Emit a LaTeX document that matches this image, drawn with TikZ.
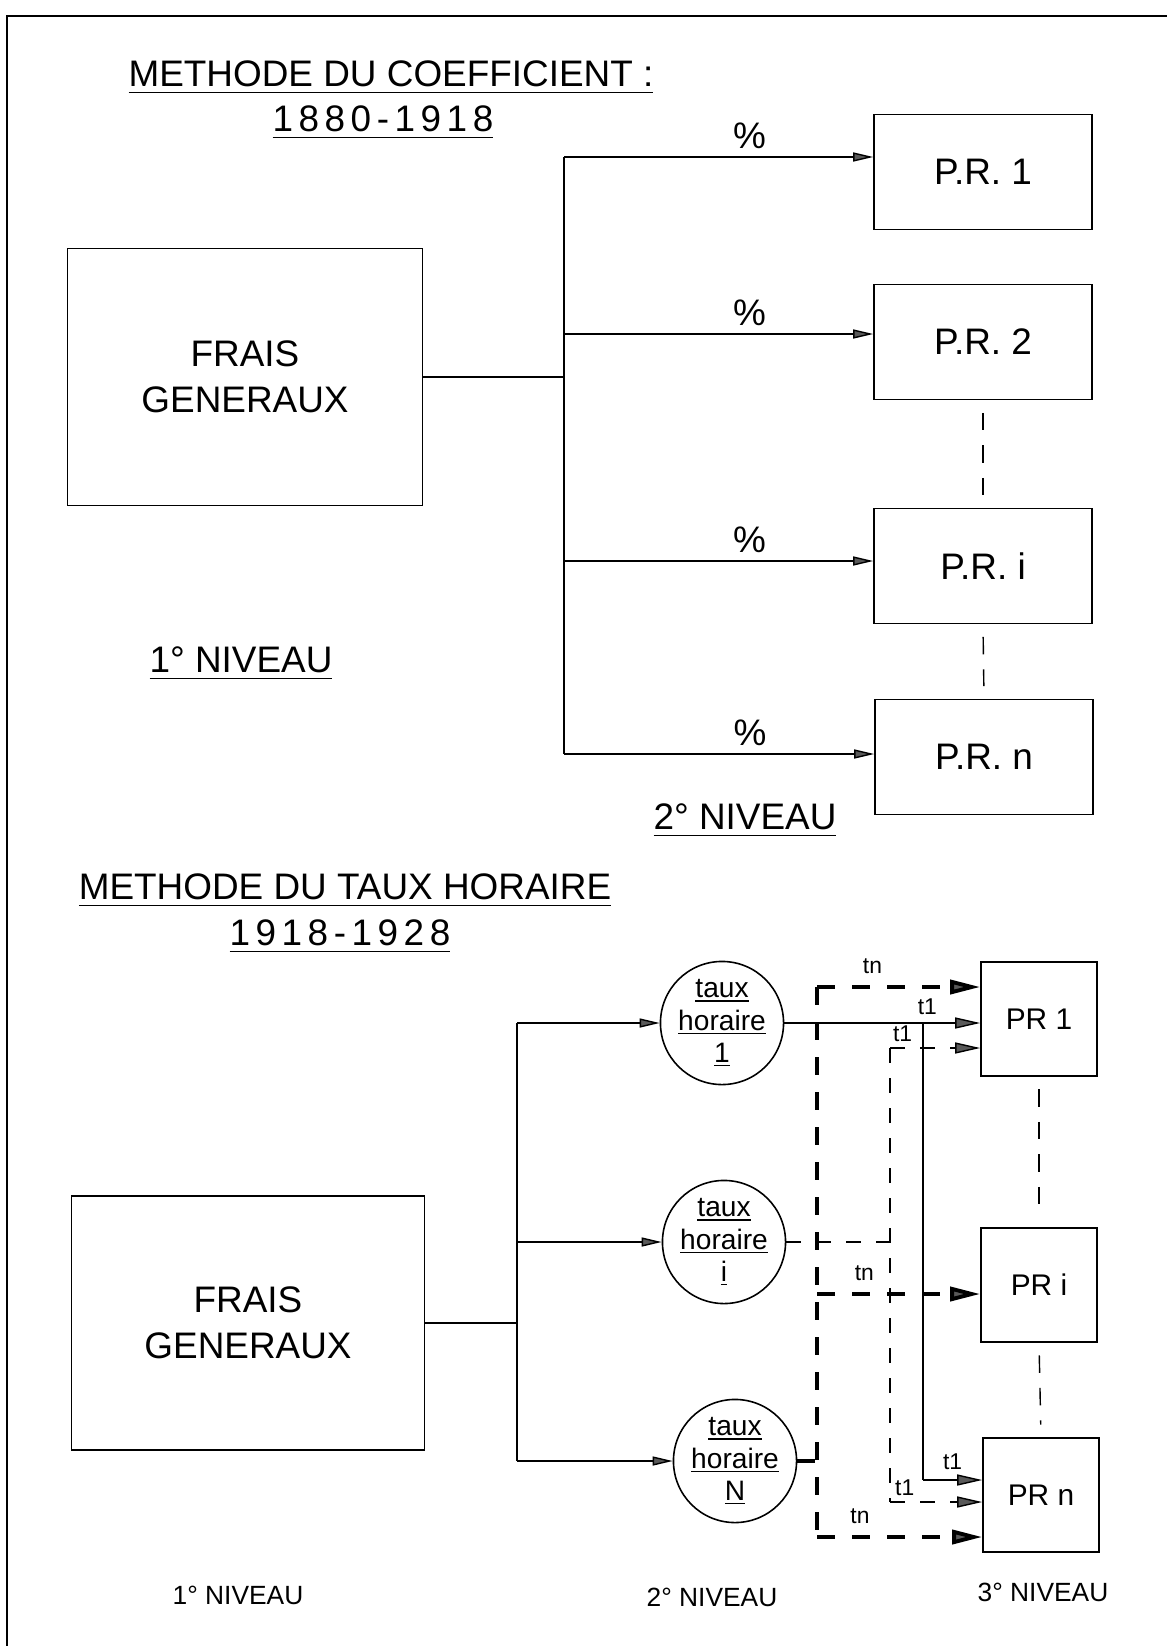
\documentclass[tikz,border=0pt]{standalone}
\usepackage{fontspec}
\setmainfont{Liberation Sans}
\usetikzlibrary{arrows.meta,positioning}
\newcommand{\undl}[2][3pt]{\vtop{\hbox{#2}\kern#1\hrule height 0.7pt}}
\begin{document}
\begin{tikzpicture}[x=0.2mm, y=-0.2mm,
  big/.style={font=\fontsize{21}{26}\selectfont},
  mid/.style={font=\fontsize{17}{20}\selectfont},
  small/.style={font=\fontsize{13}{15}\selectfont},
  block/.style={draw, line width=0.9pt, align=center, inner sep=0pt},
  rate/.style={draw, circle, line width=0.9pt, minimum size=23.6mm, inner sep=0pt, align=center, font=\fontsize{16}{18.5}\selectfont},
  wire/.style={line width=0.8pt},
  feed/.style={wire, -{Triangle[length=4mm, width=1.8mm, fill=black!65]}},
  feedb/.style={wire, -{Triangle[length=5mm, width=2.2mm, fill=black!65]}},
  light/.style={wire, dash pattern=on 3mm off 3mm},
  heavy/.style={line width=2.2pt, dash pattern=on 3.5mm off 3.5mm},
  heavytip/.style={heavy, -{Triangle[length=6mm, width=2.8mm, fill=black!65]}},
  gap/.style={wire, dash pattern=on 3.5mm off 3mm, shorten <=2.5mm, shorten >=2.5mm}]
\useasboundingbox (0,0) rectangle (1167,1646);
\draw[wire] (7,1646) -- (7,16) -- (1167,16);

% methode du coefficient
\node[big, anchor=base] (title1) at (391,86) {\undl{METHODE DU COEFFICIENT :}};
\node[big, anchor=base] (years1) at (383,131) {\undl{\addfontfeature{LetterSpace=15}1880-1918}};
\node[block, big, minimum width=71mm, minimum height=51.4mm] (fg1) at (245,377) {FRAIS\\GENERAUX};
\node[block, big, minimum width=43.6mm, minimum height=23mm] (pr1) at (983,172) {P.R. 1};
\node[block, big, minimum width=43.6mm, minimum height=23mm] (pr2) at (983,342) {P.R. 2};
\node[block, big, minimum width=43.6mm, minimum height=23mm] (pri) at (983,566) {P.R. i};
\node[block, big, minimum width=43.6mm, minimum height=23mm] (prn) at (984,757) {P.R. n};
\node[big, anchor=base] (lvl1a) at (241,672) {\undl{1° NIVEAU}};
\node[big, anchor=base] (lvl2a) at (745,829) {\undl{2° NIVEAU}};
\coordinate (j1) at (564,157);
\coordinate (j2) at (564,334);
\coordinate (j3) at (564,561);
\coordinate (j4) at (564,754);
\draw[wire] (fg1.east) -- (fg1.east -| j1);
\draw[wire] (j1) -- (j4);
\draw[feed] (j1) -- (j1 -| pr1.west) node[big, pos=0.6, above=1pt] {\%};
\draw[feed] (j2) -- (j2 -| pr2.west) node[big, pos=0.6, above=1pt] {\%};
\draw[feed] (j3) -- (j3 -| pri.west) node[big, pos=0.6, above=1pt] {\%};
\draw[feed] (j4) -- (j4 -| prn.west) node[big, pos=0.6, above=1pt] {\%};
\draw[gap] (pr2.south) -- (pri.north);
\draw[gap] (pri.south) -- (prn.north);

% methode du taux horaire
\node[big, anchor=base] (title2) at (345,899) {\undl{METHODE DU TAUX HORAIRE}};
\node[big, anchor=base] (years2) at (340,945) {\undl{\addfontfeature{LetterSpace=15}1918-1928}};
\node[block, big, minimum width=70.6mm, minimum height=50.8mm] (fg2) at (248,1323) {FRAIS\\GENERAUX};
\node[rate] (th1) at (722,1023) {\undl[1.2pt]{taux}\\\undl[1.2pt]{horaire}\\\undl[1.2pt]{1}};
\node[rate] (thi) at (724,1242) {\undl[1.2pt]{taux}\\\undl[1.2pt]{horaire}\\\undl[1.2pt]{i}};
\node[rate] (thN) at (735,1461) {\undl[1.2pt]{taux}\\\undl[1.2pt]{horaire}\\\undl[1.2pt]{N}};
\node[block, mid, minimum width=23.2mm, minimum height=22.8mm] (lpr1) at (1039,1019) {PR 1};
\node[block, mid, minimum width=23.2mm, minimum height=22.8mm] (lpri) at (1039,1285) {PR i};
\node[block, mid, minimum width=23.2mm, minimum height=22.8mm] (lprn) at (1041,1495) {PR n};
\coordinate (k1) at (517,1023);
\coordinate (k2) at (517,1242);
\coordinate (k3) at (517,1461);
\draw[wire] (fg2.east) -- (fg2.east -| k1);
\draw[wire] (k1) -- (k3);
\draw[feed] (k1) -- (th1);
\draw[feed] (k2) -- (thi);
\draw[feed] (k3) -- (thN);
\draw[gap] (lpr1.south) -- (lpri.north);
\draw[gap] (lpri.south) -- (lprn.north);

% t1
\coordinate (sTop) at (923,1023);
\coordinate (sBot) at (923,1480);
\draw[feedb] (th1) -- (th1 -| lpr1.west) node[small, pos=0.73, above=1pt] {t1};
\draw[wire] (sTop) -- (sBot);
\draw[feedb] (sBot) -- (sBot -| lprn.west) node[small, pos=0.5, above=2pt] {t1};

% ti
\coordinate (iTop) at (890,1048);
\coordinate (iMid) at (890,1242);
\coordinate (iBot) at (890,1502);
\draw[light] (thi) -- (iMid);
\draw[light] (iTop) -- (iBot);
\draw[light, -{Triangle[length=5mm, width=2.2mm, fill=black!65]}] (iTop) -- (iTop -| lpr1.west) node[small, pos=0.14, above=0pt] {t1};
\draw[light, -{Triangle[length=5mm, width=2.2mm, fill=black!65]}] (iBot) -- (iBot -| lprn.west) node[small, pos=0.16, above=0pt] {t1};

% tn
\coordinate (nTop) at (817,987);
\coordinate (nMid) at (817,1294);
\coordinate (nBot) at (817,1537);
\draw[heavy] (thN) -- (thN -| nTop);
\draw[heavy] (nTop) -- (nBot);
\draw[heavytip] (nTop) -- (nTop -| lpr1.west) node[small, pos=0.34, above=3pt] {tn};
\draw[heavytip] (nMid) -- (nMid -| lpri.west) node[small, pos=0.29, above=3pt] {tn};
\draw[heavytip] (nBot) -- (nBot -| lprn.west) node[small, pos=0.26, above=3pt] {tn};

\node[font=\fontsize{15}{18}\selectfont] (lvl1b) at (238,1595) {1° NIVEAU};
\node[font=\fontsize{15}{18}\selectfont] (lvl2b) at (712,1597) {2° NIVEAU};
\node[font=\fontsize{15}{18}\selectfont] (lvl3b) at (1043,1592) {3° NIVEAU};
\end{tikzpicture}
\end{document}
